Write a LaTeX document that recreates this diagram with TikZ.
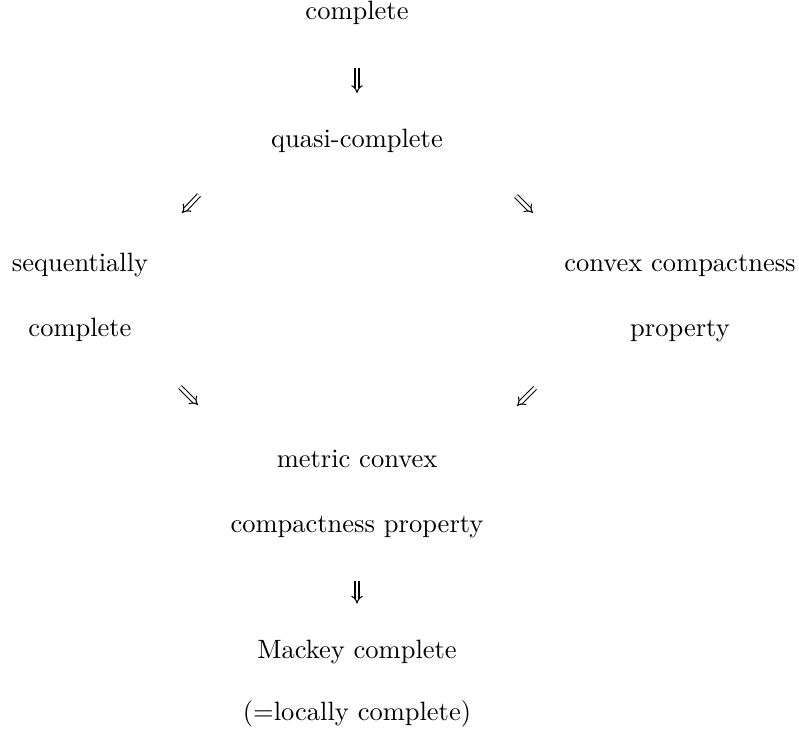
\documentclass[tikz,border=0pt]{standalone}
\usetikzlibrary{
  arrows.meta,
  calc
}
\tikzset{
  word/.style={anchor=base, inner sep=0pt},
  implies/.style={
    double,
    double distance=1.1pt,
    line width=0.4pt,
    -{Implies}
  }
}

\begin{document}
\begin{tikzpicture}[x=0.3774pt, y=-0.3774pt]
\useasboundingbox (0,0) rectangle (799,732);
% rows of the diagram
\node[word] (cpl) at (357,20) {complete};
\node[word] (quasi) at (357,148) {quasi-complete};
\node[word] (seq) at (80,272) {sequentially};
\node[word] (seqb) at (80,336) {complete};
\node[word] (ccp) at (680,272) {convex compactness};
\node[word] (ccpb) at (680,336) {property};
\node[word] (mcc) at (357,467) {metric convex};
\node[word] (mccb) at (357,532) {compactness property};
\node[word] (mack) at (357,658) {Mackey complete};
\node[word] (mackb) at (357,720) {(=locally complete)};
% ends of the slanted arrows
\coordinate (ul1) at (199,195);
\coordinate (ul2) at (182,213);
\coordinate (ur1) at (516,196);
\coordinate (ur2) at (533,213);
\coordinate (ll1) at (180,387);
\coordinate (ll2) at (198,405);
\coordinate (lr1) at (535,388);
\coordinate (lr2) at (517,406);
\draw[implies, shorten <=15.8pt, shorten >=13.6pt] (cpl) -- (quasi);
\draw[implies] (ul1) -- (ul2);
\draw[implies] (ur1) -- (ur2);
\draw[implies] (ll1) -- (ll2);
\draw[implies] (lr1) -- (lr2);
\draw[implies, shorten <=16.2pt, shorten >=13.4pt] (mccb) -- (mack);
\end{tikzpicture}
\end{document}
